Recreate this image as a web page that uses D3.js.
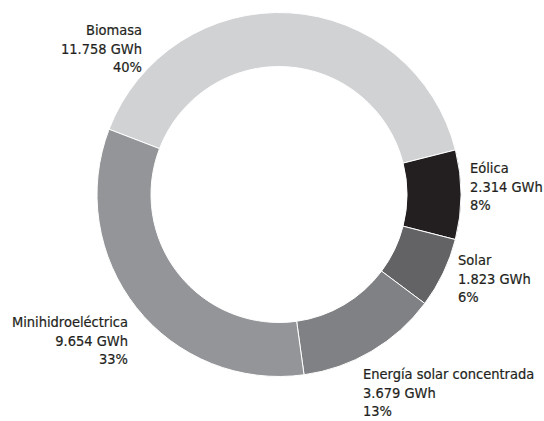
<!DOCTYPE html>
<html>
<head>
<meta charset="utf-8">
<script src="https://cdn.jsdelivr.net/npm/d3@7"></script>
<style>
  body { margin: 0; background: #fff; }
  svg text {
    font-family: "DejaVu Sans Condensed", "DejaVu Sans", sans-serif;
    font-size: 14.5px;
    fill: #231f20;
    stroke: #231f20;
    stroke-width: 0.2px;
  }
</style>
</head>
<body>
<svg width="544" height="421"></svg>
<script>
const categories = ["Biomasa", "Eólica", "Solar", "Energía solar concentrada", "Minihidroeléctrica"];
const values = [11758, 2314, 1823, 3679, 9654];
const valueLabels = ["11.758 GWh", "2.314 GWh", "1.823 GWh", "3.679 GWh", "9.654 GWh"];
const percentLabels = ["40%", "8%", "6%", "13%", "33%"];
const colors = ["#d1d2d4", "#231f20", "#636365", "#808184", "#939598"];

// label anchor spots (first baseline), picked by eye
const labelPos = [
  { x: 142, y: 35, anchor: "end" },
  { x: 470, y: 173, anchor: "start" },
  { x: 458, y: 265, anchor: "start" },
  { x: 363, y: 379, anchor: "start" },
  { x: 128, y: 327, anchor: "end" },
];
const lineStep = 18.7;

const cx = 279, cy = 194.5;
const outer = 182, inner = 128;

const data = categories.map((name, i) => ({
  name,
  value: values[i],
  gwh: valueLabels[i],
  pct: percentLabels[i],
  color: colors[i],
  pos: labelPos[i],
}));

const svg = d3.select("svg");

const pie = d3
  .pie()
  .sort(null)
  .value((d) => d.value)
  .startAngle((-69 * Math.PI) / 180)
  .endAngle((-69 * Math.PI) / 180 + 2 * Math.PI);

const arc = d3.arc().innerRadius(inner).outerRadius(outer);

svg
  .append("g")
  .attr("transform", `translate(${cx},${cy})`)
  .selectAll("path")
  .data(pie(data))
  .join("path")
  .attr("d", arc)
  .attr("fill", (d) => d.data.color)
  .attr("stroke", "#fff")
  .attr("stroke-width", 1);

const labels = svg
  .append("g")
  .selectAll("text")
  .data(data)
  .join("text")
  .attr("text-anchor", (d) => d.pos.anchor)
  .attr("transform", (d) => `translate(${d.pos.x},${d.pos.y})`);

labels
  .selectAll("tspan")
  .data((d) => [d.name, d.gwh, d.pct])
  .join("tspan")
  .attr("x", 0)
  .attr("y", (d, i) => i * lineStep)
  .text((d) => d);
</script>
</body>
</html>
